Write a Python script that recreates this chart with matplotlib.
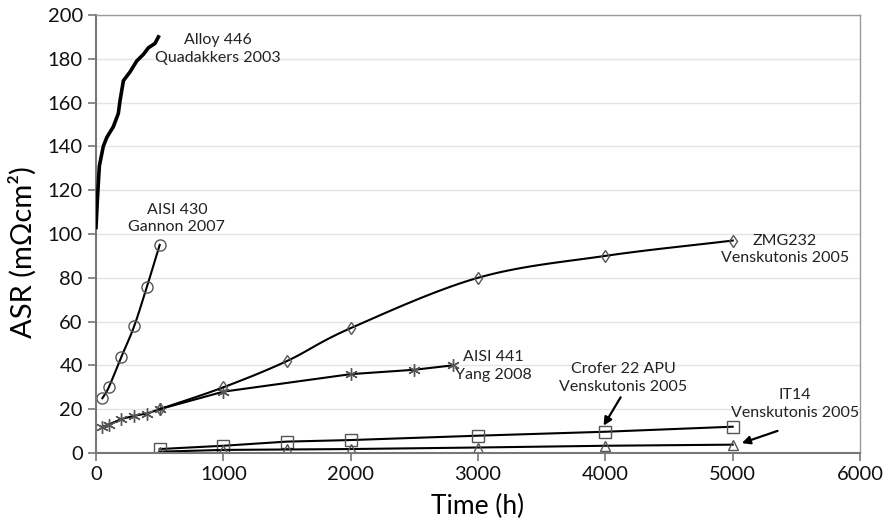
import numpy as np
import matplotlib
matplotlib.use("Agg")
import matplotlib.pyplot as plt

plt.rcParams['font.family'] = ['Lato', 'DejaVu Sans']

# Alloy 446, Quadakkers 2003 (continuous trace)
alloy446_t = [0, 10, 26, 57, 84, 136, 175, 189, 215, 267, 320, 372, 411, 463, 490]
alloy446_asr = [103, 115, 131, 140, 144, 149, 155, 161, 170, 174, 179, 182, 185, 187, 190]

# AISI 430, Gannon 2007
aisi430_t = [50, 100, 200, 300, 400, 500]
aisi430_asr = [25, 30, 44, 58, 76, 95]

# AISI 441, Yang 2008
aisi441_t = [50, 100, 200, 300, 400, 500, 1000, 2000, 2500, 2800]
aisi441_asr = [12, 13, 15.5, 17, 18, 20, 28, 36, 38, 40]

# ZMG232, Venskutonis 2005
zmg_t = [500, 1000, 1500, 2000, 3000, 4000, 5000]
zmg_asr = [20, 30, 42, 57, 80, 90, 97]

# Crofer 22 APU, Venskutonis 2005
crofer_t = [500, 1000, 1500, 2000, 3000, 4000, 5000]
crofer_asr = [1.8, 3.3, 5.2, 5.9, 7.9, 9.7, 12]

# IT14, Venskutonis 2005
it14_t = [500, 1000, 1500, 2000, 3000, 4000, 5000]
it14_asr = [0.6, 1.4, 1.6, 1.8, 2.5, 3.3, 3.8]


def smooth_path(x, y, n=20):
    """Catmull-Rom path through the points, like Excel's smoothed line."""
    x = np.asarray(x, float)
    y = np.asarray(y, float)
    px = np.concatenate([[2 * x[0] - x[1]], x, [2 * x[-1] - x[-2]]])
    py = np.concatenate([[2 * y[0] - y[1]], y, [2 * y[-1] - y[-2]]])
    xs, ys = [], []
    t = np.linspace(0, 1, n, endpoint=False)
    for i in range(1, len(px) - 2):
        for arr, out in ((px, xs), (py, ys)):
            p0, p1, p2, p3 = arr[i - 1], arr[i], arr[i + 1], arr[i + 2]
            out.extend(0.5 * (2 * p1 + (-p0 + p2) * t
                              + (2 * p0 - 5 * p1 + 4 * p2 - p3) * t ** 2
                              + (-p0 + 3 * p1 - 3 * p2 + p3) * t ** 3))
    xs.append(x[-1])
    ys.append(y[-1])
    return xs, ys


fig = plt.figure(figsize=(8.85, 5.29), dpi=100)
ax = fig.add_axes([0.1085, 0.1437, 0.8633, 0.828])

mk = dict(markerfacecolor='none', markeredgecolor='#555555', markeredgewidth=1.0)

ax.plot(alloy446_t, alloy446_asr, color='black', lw=2.6, zorder=3)

ax.plot(*smooth_path(aisi430_t, aisi430_asr), color='black', lw=1.5)
ax.plot(aisi430_t, aisi430_asr, ls='none', marker='o', ms=8, **mk)

ax.plot(aisi441_t, aisi441_asr, color='black', lw=1.5)
ax.plot(aisi441_t, aisi441_asr, ls='none', marker=(6, 2, 0), ms=9, **mk)

ax.plot(*smooth_path(zmg_t, zmg_asr), color='black', lw=1.5)
ax.plot(zmg_t, zmg_asr, ls='none', marker='d', ms=6, **mk)

ax.plot(crofer_t, crofer_asr, color='black', lw=1.5)
ax.plot(crofer_t, crofer_asr, ls='none', marker='s', ms=8, **mk)

ax.plot(it14_t, it14_asr, color='black', lw=1.5)
ax.plot(it14_t, it14_asr, ls='none', marker='^', ms=7, **mk)

lab = dict(ha='center', va='center', fontsize=11.5, linespacing=1.3, color='#222222')
ax.text(958, 184.5, 'Alloy 446\nQuadakkers 2003', **lab)
ax.text(635, 107, 'AISI 430\nGannon 2007', **lab)
ax.text(5412, 93, 'ZMG232\nVenskutonis 2005', **lab)
ax.text(3118, 39.7, 'AISI 441\nYang 2008', **lab)
ax.text(4140, 34.2, 'Crofer 22 APU\nVenskutonis 2005', **lab)
ax.text(5490, 22.4, 'IT14\nVenskutonis 2005', **lab)

arrow = dict(arrowstyle='-|>', color='black', lw=1.6, mutation_scale=12)
ax.annotate('', xy=(3975, 11.4), xytext=(4131, 26.5), arrowprops=arrow)
ax.annotate('', xy=(5051, 4.1), xytext=(5373, 10.5), arrowprops=arrow)

ax.set_xlim(0, 6000)
ax.set_ylim(0, 200)
ax.set_xticks(np.arange(0, 6001, 1000))
ax.set_yticks(np.arange(0, 201, 20))
ax.yaxis.grid(True, color='#e4e4e4', lw=1)
ax.set_axisbelow(True)
for side in ['left', 'bottom']:
    ax.spines[side].set_color('#777777')
    ax.spines[side].set_linewidth(1.5)
for side in ['top', 'right']:
    ax.spines[side].set_color('#999999')
    ax.spines[side].set_linewidth(1.0)
ax.tick_params(axis='both', labelsize=14.5, color='#777777', length=6, width=1.2,
               labelcolor='#111111')

ax.set_xlabel('Time (h)', fontsize=19, labelpad=8)
ax.set_ylabel('ASR (m\u03a9cm\u00b2)', fontsize=21)
ax.yaxis.set_label_coords(-0.078, 0.459)

fig.savefig('out.png', dpi=100)
